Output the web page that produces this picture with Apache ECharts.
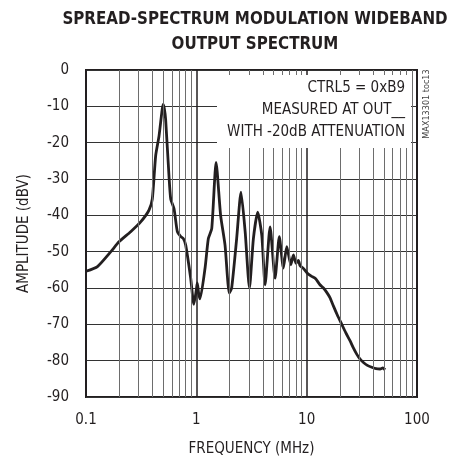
<!DOCTYPE html>
<html><head><meta charset="utf-8">
<script src="https://cdn.jsdelivr.net/npm/echarts@6/dist/echarts.min.js"></script>
<style>html,body{margin:0;padding:0;background:#fff}#c{width:450px;height:462px}</style>
</head><body><div id="c"></div>
<script>
const titleLines = ['SPREAD-SPECTRUM MODULATION WIDEBAND', 'OUTPUT SPECTRUM'];
const xName = 'FREQUENCY (MHz)';
const yName = 'AMPLITUDE (dBV)';
const notes = ['CTRL5 = 0xB9', 'MEASURED AT OUT__', 'WITH -20dB ATTENUATION'];
const tocLabel = 'MAX13301 toc13';
const minorGrid = [0.2,0.3,0.4,0.5,0.6,0.7,0.8,0.9,2,3,4,5,6,7,8,9,20,30,40,50,60,70,80,90];
const freq = [0.1,0.127,0.168,0.199,0.254,0.313,0.372,0.399,0.428,0.459,0.485,0.499,0.512,0.527,0.565,0.586,0.628,0.673,0.72,0.763,0.801,0.889,0.95,1.0,1.02,1.05,1.08,1.2,1.285,1.38,1.51,1.66,1.82,1.99,2.09,2.32,2.54,2.77,3.03,3.29,3.6,3.92,4.2,4.66,5.17,5.65,6.15,6.6,7.18,7.59,8.0,8.42,8.7,9.33,10.2,11.1,12.0,13.2,14.2,15.2,16.3,17.5,19.0,20.8,22.6,24.7,26.5,28.4,30.5,32.7,35.5,38.9,42.5,46.3,49.0,51.4];
const amp = [-55.4,-54.1,-50.0,-47.3,-44.5,-41.8,-38.6,-35.5,-23.6,-18.2,-12.0,-9.5,-10.5,-13.6,-29.1,-35.5,-38.2,-44.5,-45.8,-46.4,-48.2,-57.3,-64.5,-60.5,-58.6,-61.5,-63.0,-54.5,-46.4,-43.6,-25.4,-40.0,-48.2,-61.4,-60.0,-46.4,-33.6,-44.5,-60.0,-46.4,-39.1,-45.5,-59.1,-43.2,-57.3,-45.9,-54.5,-48.6,-53.6,-50.9,-53.2,-52.4,-53.8,-54.6,-56.0,-56.8,-57.4,-59.1,-60.0,-61.2,-62.7,-65.0,-67.5,-70.0,-72.3,-74.5,-76.5,-78.2,-79.6,-80.5,-81.3,-81.8,-82.2,-82.3,-82.0,-82.5];

const FONT = '"Liberation Sans Narrow","DejaVu Sans Condensed",Arial,sans-serif';
const chart = echarts.init(document.getElementById('c'));
chart.setOption({
  animation: false,
  backgroundColor: '#fff',
  title: {
    text: titleLines.join('\n'),
    left: 250, top: 2, textAlign: 'center',
    textStyle: {fontFamily: FONT, fontWeight: 'bold', fontSize: 16.8, lineHeight: 25, color: '#231f20'}
  },
  grid: {left: 86, right: 33, top: 70, bottom: 62, show: true, borderColor: '#231f20', borderWidth: 2, backgroundColor: 'transparent'},
  xAxis: {
    type: 'log', logBase: 10, min: 0.1, max: 100,
    name: xName, nameLocation: 'middle', nameGap: 45,
    nameTextStyle: {fontFamily: FONT, fontSize: 15, color: '#231f20'},
    axisLine: {show: false}, axisTick: {show: false},
    axisLabel: {fontFamily: FONT, fontSize: 15, color: '#231f20', margin: 16,
      formatter: v => (v < 1 ? String(v) : String(Math.round(v)))},
    splitLine: {show: true, lineStyle: {color: '#231f20', width: 1.5}}
  },
  yAxis: {
    type: 'value', min: -90, max: 0, interval: 10,
    name: yName, nameLocation: 'middle', nameGap: 54,
    nameTextStyle: {fontFamily: FONT, fontSize: 15, color: '#231f20'},
    axisLine: {show: false}, axisTick: {show: false},
    axisLabel: {fontFamily: FONT, fontSize: 15, color: '#231f20', margin: 17},
    splitLine: {show: true, lineStyle: {color: '#333', width: 1.2}}
  },
  graphic: [
    {type: 'rect', z: 20, shape: {x: 217, y: 75, width: 194, height: 73}, style: {fill: '#fff'}},
    {type: 'text', z: 21, x: 405, y: 88, style: {text: notes[0], fill: '#231f20', font: '15px ' + FONT, align: 'right', verticalAlign: 'middle'}},
    {type: 'text', z: 21, x: 405, y: 110, style: {text: notes[1], fill: '#231f20', font: '15px ' + FONT, align: 'right', verticalAlign: 'middle'}},
    {type: 'text', z: 21, x: 405, y: 132, style: {text: notes[2], fill: '#231f20', font: '15px ' + FONT, align: 'right', verticalAlign: 'middle'}},
    {type: 'text', z: 21, x: 427, y: 104, rotation: Math.PI / 2, style: {text: tocLabel, fill: '#444', font: '9px ' + FONT, align: 'center', verticalAlign: 'middle'}}
  ],
  series: [
    {
      type: 'line', z: 0, data: [], silent: true,
      markLine: {silent: true, symbol: 'none', label: {show: false}, animation: false,
        lineStyle: {color: '#6d6d6d', width: 1, type: 'solid'},
        data: minorGrid.map(v => ({xAxis: v}))}
    },
    {
      type: 'line', z: 3, showSymbol: false, smooth: 0.2,
      data: freq.map((f, i) => [f, amp[i]]),
      lineStyle: {color: '#231f20', width: 2.8, join: 'round'}
    }
  ]
});
</script></body></html>
